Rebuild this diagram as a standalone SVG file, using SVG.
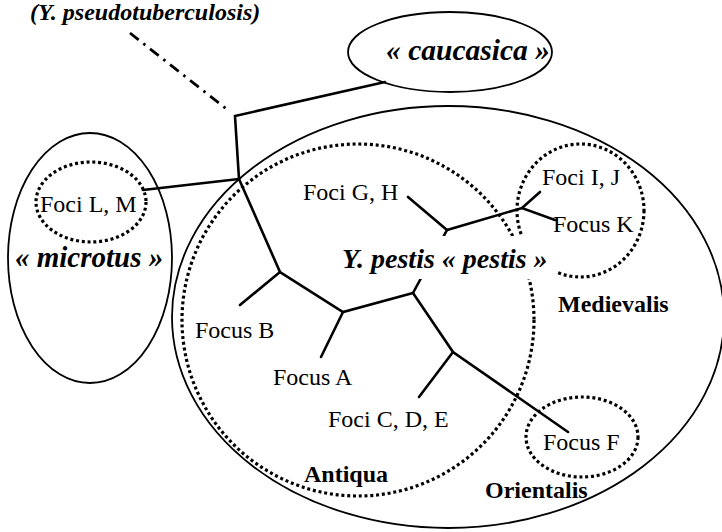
<svg xmlns="http://www.w3.org/2000/svg" width="722" height="532" viewBox="0 0 722 532">
<style>
.solid{fill:none;stroke:#000;stroke-width:1.8}
.dot{fill:none;stroke:#000;stroke-width:3.2;stroke-dasharray:3 2.8}
.br{fill:none;stroke:#000;stroke-width:2.6;stroke-linecap:round}
.lbl{font-family:"Liberation Serif",serif;font-size:24px;fill:#000}
.grp{font-family:"Liberation Serif",serif;font-size:24px;font-weight:bold;fill:#000}
.bi{font-family:"Liberation Serif",serif;font-weight:bold;font-style:italic;fill:#000}
</style>
<rect width="722" height="532" fill="#fff"/>
<g id="pestis-region"><ellipse class="solid" cx="448" cy="317" rx="276" ry="211"/></g>
<g id="antiqua-region"><circle class="dot" cx="358" cy="320" r="176"/></g>
<g id="medievalis-region"><ellipse class="dot" cx="580.5" cy="210.5" rx="63.5" ry="66.5"/></g>
<g id="orientalis-region"><ellipse class="dot" cx="582" cy="437" rx="56" ry="40"/></g>
<g id="microtus-region"><ellipse class="solid" cx="90" cy="258" rx="82" ry="125"/></g>
<g id="fociLM-region"><ellipse class="dot" cx="91" cy="202" rx="55" ry="40"/></g>
<g id="caucasica-region"><ellipse class="solid" cx="450" cy="52" rx="102" ry="40"/></g>
<g id="connectors">
<line x1="130" y1="33" x2="229" y2="111" fill="none" stroke="#000" stroke-width="2.8" stroke-dasharray="11 6 2.5 6"/>
<polyline class="br" points="385,82 235,116 239,179"/>
<line class="br" x1="143" y1="190" x2="239" y2="179"/>
<polyline class="br" points="239,179 280,272 343,312 413,293 453,352 568,432"/>
<line class="br" x1="280" y1="272" x2="240" y2="305"/>
<line class="br" x1="343" y1="312" x2="321" y2="357"/>
<line class="br" x1="453" y1="352" x2="419" y2="397"/>
<line class="br" x1="413" y1="293" x2="447" y2="230"/>
<polyline class="br" points="408,197 447,230 522,208 555,220"/>
<line class="br" x1="522" y1="208" x2="540" y2="192"/>
</g>
<rect x="338" y="236" width="219" height="43" fill="#fff"/>
<g id="title"><text class="bi" x="30" y="20" font-size="24">(Y. pseudotuberculosis)</text></g>
<g id="caucasica"><text class="bi" x="386" y="60" font-size="29.5">« caucasica »</text></g>
<g id="microtus"><text class="bi" x="15" y="267" font-size="29">« microtus »</text></g>
<g id="pestis"><text class="bi" x="342" y="268" font-size="28">Y. pestis « pestis »</text></g>
<g id="fociLM"><text class="lbl" x="40" y="212" font-size="23">Foci L, M</text></g>
<g id="fociGH"><text class="lbl" x="303" y="200">Foci G, H</text></g>
<g id="fociIJ"><text class="lbl" x="542" y="185">Foci I, J</text></g>
<g id="focusK"><text class="lbl" x="553" y="232">Focus K</text></g>
<g id="focusB"><text class="lbl" x="195" y="338">Focus B</text></g>
<g id="focusA"><text class="lbl" x="273" y="385">Focus A</text></g>
<g id="fociCDE"><text class="lbl" x="328" y="427">Foci C, D, E</text></g>
<g id="focusF"><text class="lbl" x="543" y="450">Focus F</text></g>
<g id="medievalis"><text class="grp" x="558" y="312">Medievalis</text></g>
<g id="antiqua"><text class="grp" x="304" y="482">Antiqua</text></g>
<g id="orientalis"><text class="grp" x="485" y="498">Orientalis</text></g>
</svg>
